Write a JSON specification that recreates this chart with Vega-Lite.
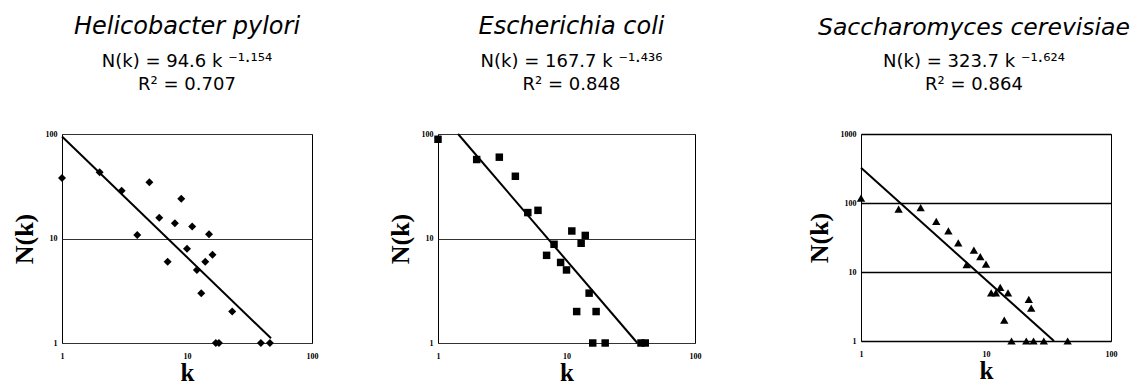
{
  "$schema": "https://vega.github.io/schema/vega-lite/v6.json",
  "background": "white",
  "padding": {"left": 10, "top": 14, "right": 5, "bottom": 0},
  "config": {
    "view": {"stroke": "black", "strokeWidth": 1},
    "axis": {
      "labelFont": "Liberation Serif", "labelFontWeight": "bold", "labelFontSize": 8, "labelColor": "black",
      "ticks": false, "domain": false, "grid": false,
      "titleFont": "Liberation Serif", "titleFontWeight": "bold", "titleColor": "black"
    },
    "title": {
      "font": "DejaVu Sans", "fontSize": 24, "fontStyle": "italic", "fontWeight": "normal", "color": "black",
      "subtitleFont": "DejaVu Sans", "subtitleFontSize": 18, "subtitleColor": "black", "subtitleLineHeight": 23,
      "subtitlePadding": 14, "anchor": "middle", "frame": "group"
    }
  },
  "datasets": {
    "hp": [
      {"k": 1, "n": 38}, {"k": 2, "n": 43}, {"k": 3, "n": 28.6}, {"k": 4, "n": 10.8}, {"k": 5, "n": 34.5},
      {"k": 6, "n": 15.8}, {"k": 7, "n": 6}, {"k": 8, "n": 14}, {"k": 9, "n": 24}, {"k": 10, "n": 8},
      {"k": 11, "n": 13}, {"k": 12, "n": 5}, {"k": 13, "n": 3}, {"k": 14, "n": 6}, {"k": 15, "n": 11},
      {"k": 16, "n": 7}, {"k": 17, "n": 1}, {"k": 18, "n": 1}, {"k": 23, "n": 2}, {"k": 39, "n": 1}, {"k": 46, "n": 1}
    ],
    "ec": [
      {"k": 1, "n": 89}, {"k": 2, "n": 57}, {"k": 3, "n": 60}, {"k": 4, "n": 39.4}, {"k": 5, "n": 17.7},
      {"k": 6, "n": 18.6}, {"k": 7, "n": 6.9}, {"k": 8, "n": 8.8}, {"k": 9, "n": 5.9}, {"k": 10, "n": 5},
      {"k": 11, "n": 11.8}, {"k": 12, "n": 2}, {"k": 13, "n": 9}, {"k": 14, "n": 10.7}, {"k": 15, "n": 3},
      {"k": 16, "n": 1}, {"k": 17, "n": 2}, {"k": 20, "n": 1}, {"k": 38, "n": 1}, {"k": 41, "n": 1}
    ],
    "sc": [
      {"k": 1, "n": 118}, {"k": 2, "n": 81.5}, {"k": 3, "n": 86}, {"k": 4, "n": 54}, {"k": 5, "n": 39.5},
      {"k": 6, "n": 26.4}, {"k": 7, "n": 12.8}, {"k": 8, "n": 20.7}, {"k": 9, "n": 16.7}, {"k": 10, "n": 13},
      {"k": 11, "n": 5}, {"k": 12, "n": 5}, {"k": 13, "n": 6}, {"k": 14, "n": 2}, {"k": 15, "n": 5},
      {"k": 16, "n": 1}, {"k": 21, "n": 1}, {"k": 22, "n": 4}, {"k": 23, "n": 3}, {"k": 24, "n": 1},
      {"k": 29, "n": 1}, {"k": 45, "n": 1}
    ],
    "hpfit": [{"k": 1, "n": 94.6}, {"k": 47, "n": 1.11}],
    "ecfit": [{"k": 1.433, "n": 100}, {"k": 35.6, "n": 1}],
    "scfit": [{"k": 1, "n": 323.7}, {"k": 35, "n": 1}]
  },
  "spacing": 103,
  "hconcat": [
    {
      "spacing": 67,
      "hconcat": [
        {
          "width": 250, "height": 209,
          "title": {"text": "Helicobacter pylori", "subtitle": ["N(k) = 94.6 k ⁻¹·¹⁵⁴", "R² = 0.707"], "offset": 36},
          "encoding": {
            "x": {"field": "k", "type": "quantitative", "scale": {"type": "log", "domain": [1, 100]},
                  "axis": {"values": [1, 10, 100], "format": "d", "title": "k", "titleFontSize": 25, "labelPadding": 9, "titlePadding": 0, "labelFlush": false}},
            "y": {"field": "n", "type": "quantitative", "scale": {"type": "log", "domain": [1, 100]},
                  "axis": {"values": [1, 10, 100], "format": "d", "title": "N(k)", "titleFontSize": 26, "labelPadding": 5, "titlePadding": 8, "grid": true, "gridColor": "#333", "gridWidth": 1}}
          },
          "layer": [
            {"data": {"name": "hpfit"}, "mark": {"type": "line", "color": "black", "strokeWidth": 2}},
            {"data": {"name": "hp"}, "mark": {"type": "point", "shape": "diamond", "filled": true, "color": "black", "size": 64, "opacity": 1}}
          ]
        },
        {
          "width": 257, "height": 209,
          "title": {"text": "Escherichia coli", "subtitle": ["N(k) = 167.7 k ⁻¹·⁴³⁶", "R² = 0.848"], "offset": 36, "dx": 5},
          "encoding": {
            "x": {"field": "k", "type": "quantitative", "scale": {"type": "log", "domain": [1, 100]},
                  "axis": {"values": [1, 10, 100], "format": "d", "title": "k", "titleFontSize": 25, "labelPadding": 9, "titlePadding": 0, "labelFlush": false}},
            "y": {"field": "n", "type": "quantitative", "scale": {"type": "log", "domain": [1, 100]},
                  "axis": {"values": [1, 10, 100], "format": "d", "title": "N(k)", "titleFontSize": 26, "labelPadding": 5, "titlePadding": 8, "grid": true, "gridColor": "#333", "gridWidth": 1}}
          },
          "layer": [
            {"data": {"name": "ecfit"}, "mark": {"type": "line", "color": "black", "strokeWidth": 2}},
            {"data": {"name": "ec"}, "mark": {"type": "point", "shape": "square", "filled": true, "color": "black", "size": 56, "opacity": 1}}
          ]
        }
      ]
    },
    {
      "width": 250, "height": 207,
      "title": {"text": "Saccharomyces cerevisiae", "subtitle": ["N(k) = 323.7 k ⁻¹·⁶²⁴", "R² = 0.864"], "offset": 36, "dx": -12, "fontSize": 23.5},
      "encoding": {
        "x": {"field": "k", "type": "quantitative", "scale": {"type": "log", "domain": [1, 100]},
              "axis": {"values": [1, 10, 100], "format": "d", "title": "k", "titleFontSize": 25, "labelPadding": 9, "titlePadding": 0, "labelFlush": false}},
        "y": {"field": "n", "type": "quantitative", "scale": {"type": "log", "domain": [1, 1000]},
              "axis": {"values": [1, 10, 100, 1000], "format": "d", "title": "N(k)", "titleFontSize": 26, "labelPadding": 5, "titlePadding": 8, "grid": true, "gridColor": "black", "gridWidth": 1.5}}
      },
      "layer": [
        {"data": {"name": "scfit"}, "mark": {"type": "line", "color": "black", "strokeWidth": 2}},
        {"data": {"name": "sc"}, "mark": {"type": "point", "shape": "triangle-up", "filled": true, "color": "black", "size": 70, "opacity": 1}}
      ]
    }
  ]
}
